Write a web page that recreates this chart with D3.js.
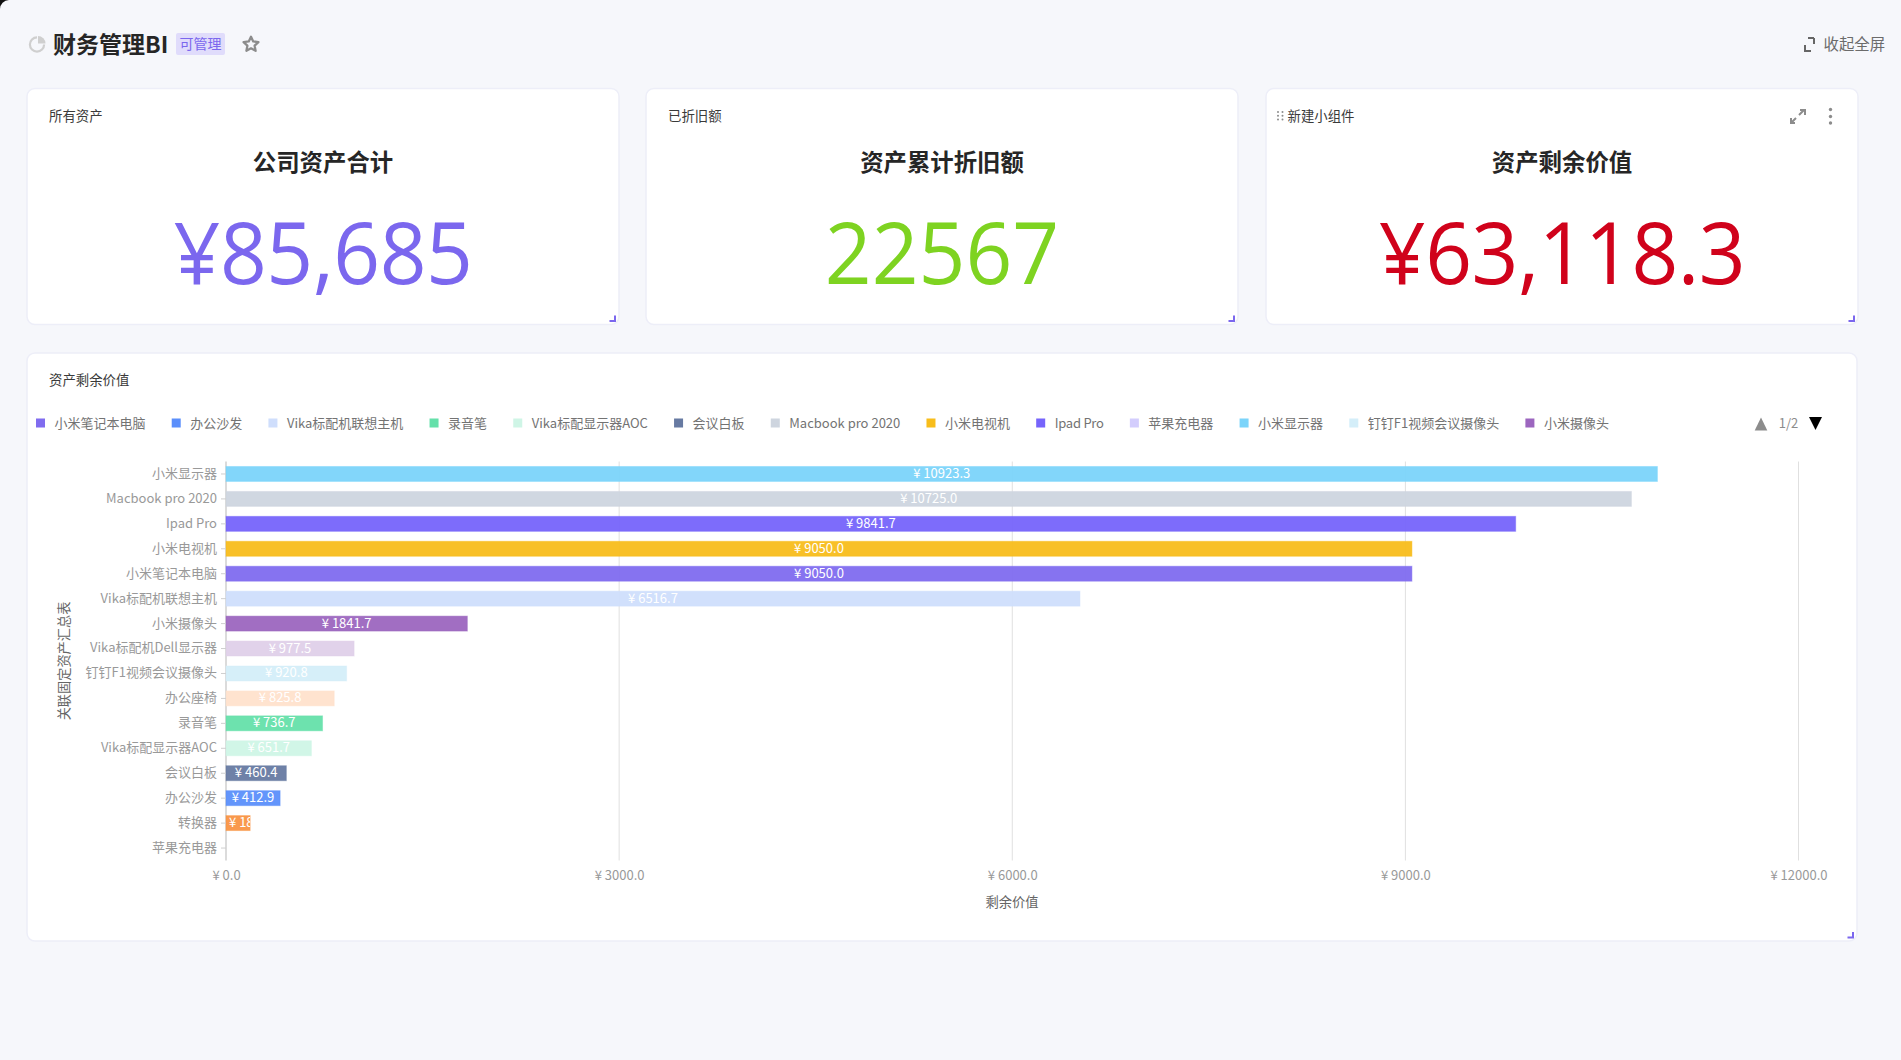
<!DOCTYPE html>
<html>
<head>
<meta charset="utf-8">
<title>财务管理BI</title>
<script src="https://cdn.jsdelivr.net/npm/d3@7"></script>
<style>
  html, body { margin: 0; padding: 0; background: #f6f7fb; overflow: hidden; }
  svg { display: block; }
  text { font-family: "Noto Sans CJK SC", sans-serif; }
</style>
</head>
<body>
<svg id="page" width="1901" height="1060"></svg>
<script>
// chart data
const categories = ["小米显示器", "Macbook pro 2020", "Ipad Pro", "小米电视机", "小米笔记本电脑", "Vika标配机联想主机", "小米摄像头", "Vika标配机Dell显示器", "钉钉F1视频会议摄像头", "办公座椅", "录音笔", "Vika标配显示器AOC", "会议白板", "办公沙发", "转换器", "苹果充电器"];
const values = [10923.3, 10725.0, 9841.7, 9050.0, 9050.0, 6516.7, 1841.7, 977.5, 920.8, 825.8, 736.7, 651.7, 460.4, 412.9, 184.1, 0];
const barColors = ["#7bd4fa", "#ced5df", "#7664fb", "#f8bd1b", "#806cef", "#cfdefc", "#9c66bf", "#dfd0e9", "#d4eef9", "#ffe2cc", "#65e0aa", "#cff5e6", "#677aa2", "#5b8ffb", "#f99443", "#d3cdfd"];
const legendNames = ["小米笔记本电脑", "办公沙发", "Vika标配机联想主机", "录音笔", "Vika标配显示器AOC", "会议白板", "Macbook pro 2020", "小米电视机", "Ipad Pro", "苹果充电器", "小米显示器", "钉钉F1视频会议摄像头", "小米摄像头"];
const xTicks = [0, 3000, 6000, 9000, 12000];

// the three number cards
const cardTitles = ["所有资产", "已折旧额", "新建小组件"];
const cardHeadings = ["公司资产合计", "资产累计折旧额", "资产剩余价值"];
const cardNumbers = ["¥85,685", "22567", "¥63,118.3"];
const cardColors = ["#7b67ee", "#7ed321", "#d0021b"];

const svg = d3.select("#page");
const yuan = (v) => "¥ " + v.toFixed(1);

// window corner, top left of the screenshot
svg.append("path").attr("d", "M0 0H9A9 9 0 0 0 0 9Z").attr("fill", "#111");

function addCard(x, y, w, h) {
  const g = svg.append("g").attr("transform", `translate(${x},${y})`);
  g.append("rect")
    .attr("x", 0.5).attr("y", 0.5)
    .attr("width", w - 1).attr("height", h - 1)
    .attr("rx", 8)
    .attr("fill", "#fff")
    .attr("stroke", "#edeef8")
    .attr("stroke-width", 1.5);
  // resize handle
  g.append("path")
    .attr("d", `M${w - 10} ${h - 4}h5.5v-5.5`)
    .attr("fill", "none")
    .attr("stroke", "#7b67ee")
    .attr("stroke-width", 2);
  return g;
}

// header
const pie = svg.append("g").attr("transform", "translate(37,44.5)");
pie.append("path")
  .attr("d", d3.arc()({ innerRadius: 6, outerRadius: 8.2, startAngle: Math.PI / 2, endAngle: 2 * Math.PI }))
  .attr("fill", "#cfcfcf");
pie.append("path")
  .attr("transform", "translate(1,-1)")
  .attr("d", d3.arc()({ innerRadius: 0, outerRadius: 7.5, startAngle: 0, endAngle: Math.PI / 2 }))
  .attr("fill", "#cfcfcf");

svg.append("text")
  .attr("x", 53).attr("y", 53)
  .attr("font-size", 23).attr("font-weight", 700).attr("fill", "#262626")
  .text("财务管理BI");

svg.append("rect")
  .attr("x", 176).attr("y", 33).attr("width", 49).attr("height", 22).attr("rx", 2)
  .attr("fill", "#e0dcfb");
svg.append("text")
  .attr("x", 200.5).attr("y", 49)
  .attr("text-anchor", "middle").attr("font-size", 14).attr("fill", "#7b67ee")
  .text("可管理");

const starPoints = d3.range(10).map((i) => {
  const r = i % 2 ? 3.8 : 7.8;
  const a = (i * Math.PI) / 5;
  return [251 + r * Math.sin(a), 44.5 - r * Math.cos(a)];
});
svg.append("polygon")
  .attr("points", starPoints.join(" "))
  .attr("fill", "none").attr("stroke", "#8c8c8c").attr("stroke-width", 2.3).attr("stroke-linejoin", "round");

svg.append("path")
  .attr("d", "M1805 45v6h6M1814 38h-6M1814 38v6")
  .attr("fill", "none").attr("stroke", "#666").attr("stroke-width", 2);
svg.append("text")
  .attr("x", 1823.5).attr("y", 49.5)
  .attr("font-size", 15.4).attr("fill", "#6b6b6b")
  .text("收起全屏");

// number cards
const cardX = [26.5, 645.5, 1265.5];
cardTitles.forEach((title, i) => {
  const card = addCard(cardX[i], 88, 593, 237);
  const cx = 296.5;
  card.append("text")
    .attr("x", i === 2 ? 22 : 22.5).attr("y", 32.7)
    .attr("font-size", 13.4).attr("fill", "#3a3a3a")
    .text(title);
  card.append("text")
    .attr("x", cx).attr("y", 83)
    .attr("text-anchor", "middle")
    .attr("font-size", 23.4).attr("font-weight", 700).attr("fill", "#262626")
    .text(cardHeadings[i]);
  // digits in the shot are taller than Open Sans, hence the y scale
  card.append("text")
    .attr("transform", `translate(${cx},195.5) scale(1,1.06)`)
    .attr("text-anchor", "middle")
    .style("font-family", '"Open Sans", sans-serif')
    .attr("font-size", 82)
    .attr("letter-spacing", i === 1 ? 0 : -0.5)
    .attr("fill", cardColors[i])
    .text(cardNumbers[i]);
});

// icons on the third card
const dots = svg.append("g").attr("fill", "#8c8c8c");
d3.range(6).forEach((i) => {
  dots.append("circle").attr("cx", 1278 + (i % 2) * 4.5).attr("cy", 112 + Math.floor(i / 2) * 3.8).attr("r", 1);
});
svg.append("path")
  .attr("d", "M1799 115l5-5M1800 110h5v5M1796 118l-5 5M1795 123h-4v-5")
  .attr("fill", "none").attr("stroke", "#8c8c8c").attr("stroke-width", 2);
[109.5, 116.5, 123].forEach((cy) => {
  svg.append("circle").attr("cx", 1830.5).attr("cy", cy).attr("r", 1.7).attr("fill", "#8c8c8c");
});

// chart card
const chartCard = addCard(26.5, 352.5, 1831, 589);
chartCard.append("text")
  .attr("x", 22.5).attr("y", 32.5)
  .attr("font-size", 13.4).attr("fill", "#3a3a3a")
  .text("资产剩余价值");

// legend, laid out as a flow so the gaps come from the text widths
let legendX = 36;
const legendY = 423;
legendNames.forEach((name) => {
  const item = svg.append("g").attr("transform", `translate(${legendX},0)`);
  item.append("rect")
    .attr("y", legendY - 4.5).attr("width", 9).attr("height", 9)
    .attr("fill", barColors[categories.indexOf(name)]);
  const label = item.append("text")
    .attr("x", 18.5).attr("y", legendY + 4.5)
    .attr("font-size", 13).attr("fill", "#737373")
    .text(name);
  // this one runs a bit narrower in the shot
  if (name === "Ipad Pro") label.attr("letter-spacing", -0.25);
  legendX += 18.5 + label.node().getComputedTextLength() + 26.2;
});

// legend pager
svg.append("path").attr("d", "M1761 417.5l6.3 13h-12.6Z").attr("fill", "#8c8c8c");
svg.append("text")
  .attr("x", 1788.5).attr("y", 427.5)
  .attr("text-anchor", "middle").attr("font-size", 13).attr("fill", "#8c8c8c")
  .text("1/2");
svg.append("path").attr("d", "M1809 417h13l-6.5 13Z").attr("fill", "#000");

// bar chart
const x = d3.scaleLinear().domain([0, 12000]).range([226, 1798.5]);
const y = d3.scaleBand().domain(categories).range([461.5, 860.5]).paddingInner(0.4).paddingOuter(0.2);

// grid lines first, the bars are slightly see-through
svg.append("g")
  .selectAll("line")
  .data(xTicks)
  .join("line")
  .attr("x1", (d) => x(d)).attr("x2", (d) => x(d))
  .attr("y1", 461.5).attr("y2", 860.5)
  .attr("stroke", (d) => (d === 0 ? "#cfcfcf" : "#e0e0e0"))
  .attr("stroke-width", (d) => (d === 0 ? 1.5 : 1));

const bars = svg.append("g");
bars.selectAll("rect")
  .data(values)
  .join("rect")
  .attr("x", x(0))
  .attr("y", (d, i) => y(categories[i]))
  .attr("width", (d) => x(d) - x(0))
  .attr("height", y.bandwidth())
  .attr("fill", (d, i) => barColors[i])
  .attr("fill-opacity", 0.95)
  .attr("stroke", (d, i) => barColors[i])
  .attr("stroke-opacity", 0.45);

// value labels sit in the middle of a bar, a too long one starts at the left and gets cut
const defs = svg.append("defs");
values.forEach((v, i) => {
  if (v === 0) return;
  const w = x(v) - x(0);
  const mid = y(categories[i]) + y.bandwidth() / 2;
  const label = svg.append("text")
    .attr("x", x(0) + w / 2).attr("y", mid + 4)
    .attr("text-anchor", "middle")
    .attr("font-size", 13).attr("fill", "#fff")
    .text(yuan(v));
  if (label.node().getComputedTextLength() > w) {
    defs.append("clipPath").attr("id", "cut" + i)
      .append("rect")
      .attr("x", x(0)).attr("y", y(categories[i]))
      .attr("width", w).attr("height", y.bandwidth());
    label.attr("x", x(0) + 3).attr("text-anchor", "start").attr("clip-path", `url(#cut${i})`);
  }
});

const xAxis = svg.append("g")
  .attr("transform", "translate(0,861)")
  .call(d3.axisBottom(x).tickValues(xTicks).tickSize(0).tickPadding(10).tickFormat(yuan));
xAxis.select(".domain").remove();
xAxis.selectAll("text").attr("font-size", 13).attr("fill", "#999").style("font-family", null);

const yAxis = svg.append("g")
  .attr("transform", "translate(226,0)")
  .call(d3.axisLeft(y).tickSize(5).tickPadding(4));
yAxis.select(".domain").remove();
yAxis.selectAll("line").attr("stroke", "#cfcfcf");
yAxis.selectAll("text").attr("font-size", 13).attr("fill", "#999").attr("dy", "0.3em").style("font-family", null);

svg.append("text")
  .attr("x", 1012).attr("y", 906.5)
  .attr("text-anchor", "middle")
  .attr("font-size", 13.3).attr("fill", "#666")
  .text("剩余价值");
svg.append("text")
  .attr("transform", "translate(69,661) rotate(-90)")
  .attr("text-anchor", "middle")
  .attr("font-size", 13.2).attr("fill", "#666")
  .text("关联固定资产汇总表");
</script>
</body>
</html>
